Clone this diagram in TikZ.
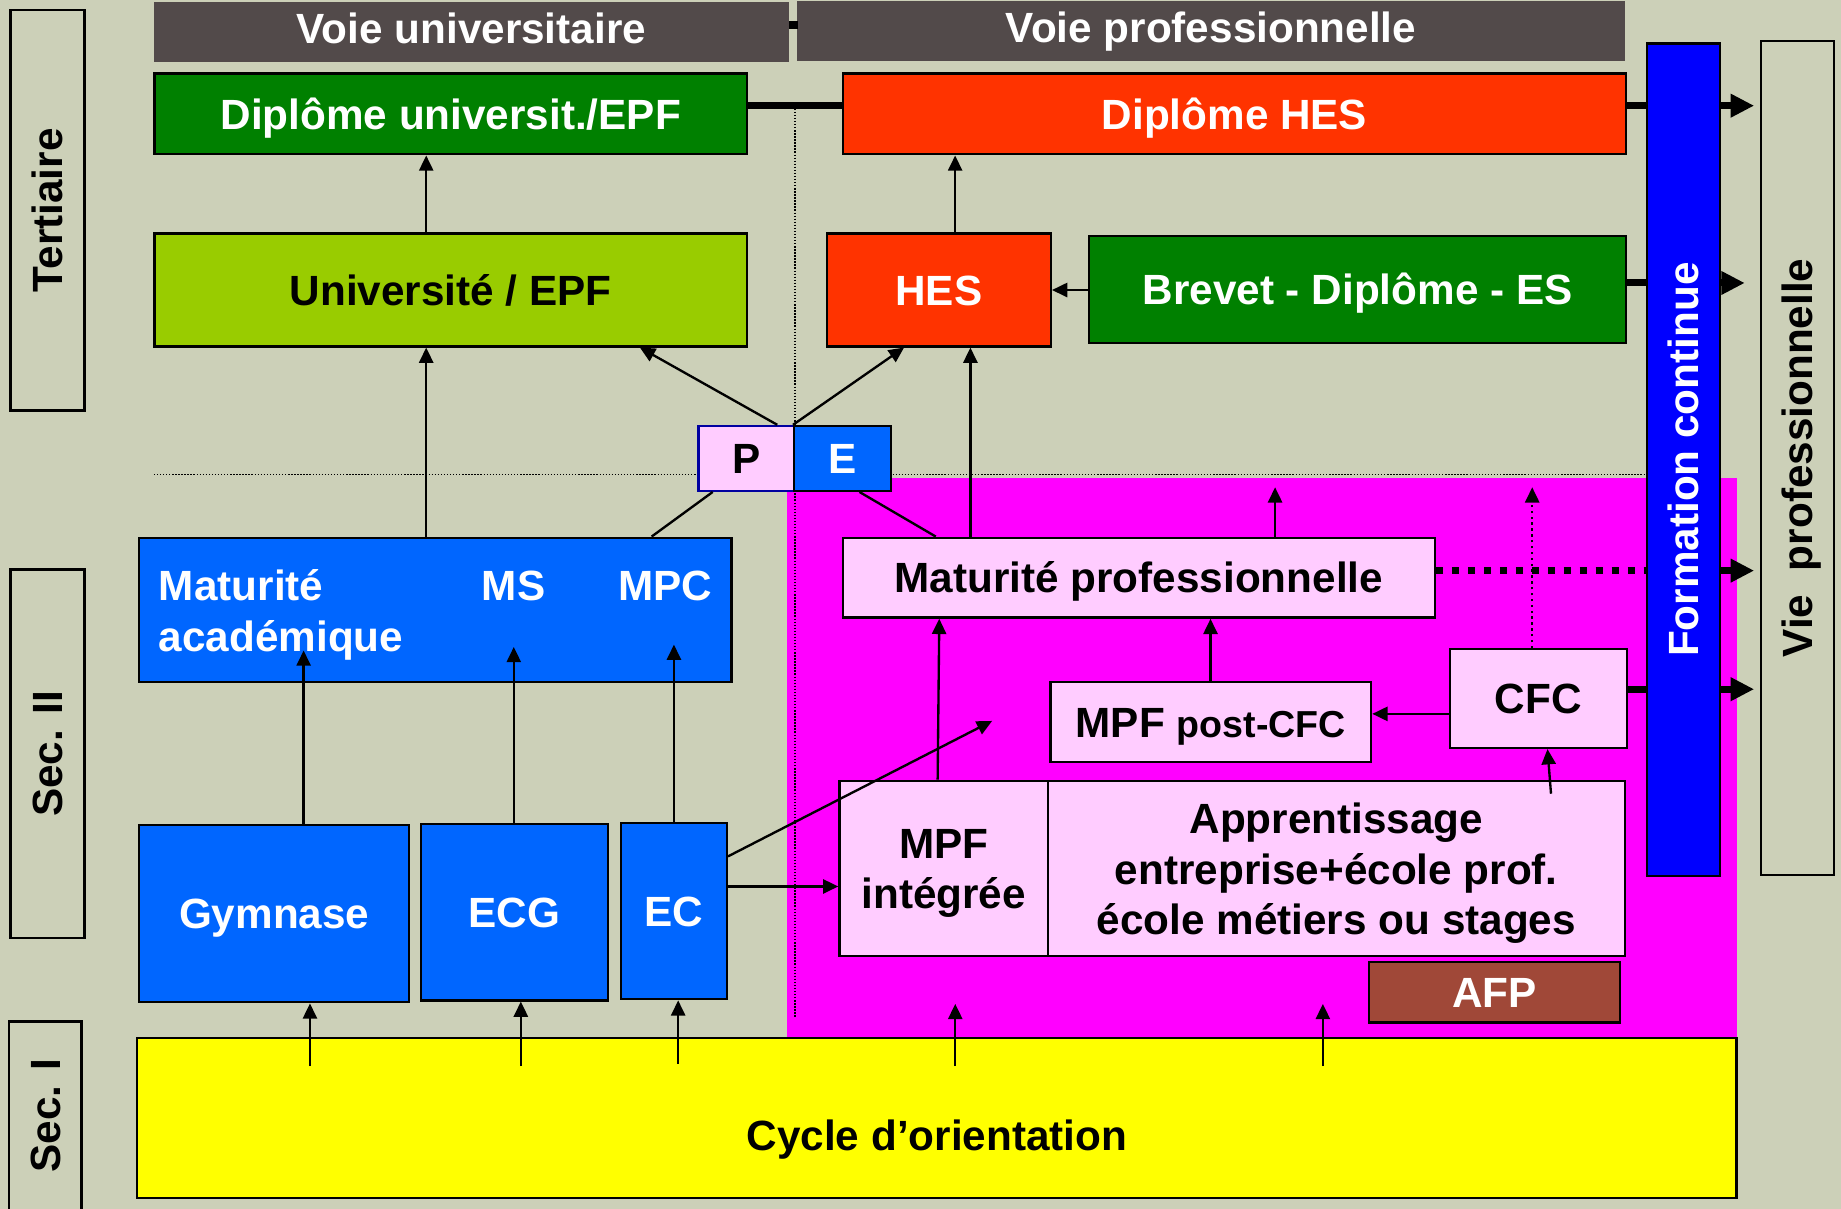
\documentclass[tikz,border=0pt]{standalone}
\usepackage{fontspec}
\setmainfont{Liberation Sans}
\usetikzlibrary{arrows.meta,fit,calc}
\definecolor{bgc}{RGB}{204,208,184}
\definecolor{headc}{RGB}{82,74,74}
\definecolor{greenc}{RGB}{0,128,0}
\definecolor{redc}{RGB}{255,51,0}
\definecolor{limec}{RGB}{153,204,0}
\definecolor{bluec}{RGB}{0,102,255}
\definecolor{pinkc}{RGB}{255,204,255}
\definecolor{magc}{RGB}{255,0,255}
\definecolor{fcblue}{RGB}{0,0,255}
\definecolor{afpc}{RGB}{160,72,56}
\definecolor{yelc}{RGB}{255,255,0}
\definecolor{pborder}{RGB}{0,0,160}
\tikzset{
  txt/.style={font=\fontsize{18}{21.5}\selectfont\bfseries, inner sep=0pt},
  lb/.style={txt, text height=12.9pt, text depth=0pt},
  lbw/.style={lb, text=white},
  ml/.style={txt, align=center, yshift=-2pt},
  box/.style={draw=black, line width=1pt, inner sep=0pt},
  hbox/.style={fill=headc, inner sep=0pt},
  rlab/.style={txt, rotate=90, text height=12.9pt, text depth=0pt},
  arr/.style={line width=1pt, -{Triangle[length=6.5pt,width=6pt]}},
  plain/.style={line width=1pt},
  dotarr/.style={line width=1pt, dash pattern=on 1pt off 1.5pt, -{Triangle[length=6.5pt,width=6pt]}},
  thk/.style={line width=3pt},
  thkdot/.style={line width=3.1pt, dash pattern=on 3.1pt off 3.7pt},
  thkarr/.style={line width=3pt, -{Triangle[length=10pt,width=9.5pt]}},
  thindots/.style={line width=0.6pt, dash pattern=on 0.6pt off 0.7pt},
}
\begin{document}
\begin{tikzpicture}[x=0.5pt,y=-0.5pt]
\useasboundingbox (0,0) rectangle (1568,1029.7);
\fill[bgc] (0,0) rectangle (1568,1029.7);
% professional area
\fill[magc] (670,407) rectangle (1479,884);
% guide lines
\draw[thindots] (131,404) -- (1400,404);
\draw[thindots] (677,90) -- (677,866);
% side labels
\node[box, fit={(9,8.5) (72,349.5)}, label={[rlab]center:Tertiaire}] (ter) {};
\node[box, fit={(9,485) (72,799)}, label={[rlab]center:Sec. II}] (s2) {};
\node[box, fit={(7.5,870) (69.5,1034)}] (s1) {};
\node[rlab] (s1t) at ($(s1.north)!0.5!(s1.north |- 0,1031)$) {Sec. I};
% headers
\node[hbox, fit={(131,1.6) (672,53)}, label={[lbw, yshift=1.5pt]center:Voie universitaire}] (hu) {};
\node[hbox, fit={(679,1) (1384,52)}, label={[lbw, yshift=1.5pt]center:Voie professionnelle}] (hp) {};
\fill (672,18) rectangle (680,24.5);
% tertiary
\node[box, fill=greenc, fit={(131.5,62.6) (636.3,131.4)}, label={[lbw]center:{Diplôme universit./EPF}}] (du) {};
\node[box, fill=redc, fit={(717.8,62.6) (1385,131.4)}, label={[lbw]center:Diplôme HES}] (dh) {};
\node[box, fill=limec, fit={(131.5,198.8) (636.3,295)}, label={[lb]center:{Université / EPF}}] (ue) {};
\node[box, fill=redc, fit={(704.3,199) (895,295)}, label={[lbw]center:HES}] (hes) {};
\node[box, fill=greenc, fit={(927.6,201) (1385,292)}, label={[lbw]center:{Brevet - Diplôme - ES}}] (bes) {};
% P E
\node[box, draw=pborder, fill=pinkc, fit={(594.8,362.8) (676.4,418)}, label={[lb]center:P}] (P) {};
\node[box, fill=bluec, fit={(676.4,362.8) (758.8,418)}, label={[lbw]center:E}] (E) {};
% secondary II academic
\node[box, fill=bluec, fit={(118.5,458) (623,581)}] (ma) {};
\node[txt, text=white, anchor=base west] (ma1) at (135,511.5) {Maturité};
\node[txt, text=white, anchor=base west] (ma2) at (135,555) {académique};
\node[txt, text=white, anchor=base west] (ms) at (410,511.5) {MS};
\node[txt, text=white, anchor=base west] (mpc) at (526,511.5) {MPC};
\node[box, fill=bluec, fit={(118.5,702.8) (348.6,853.6)}, label={[lbw]center:Gymnase}] (gym) {};
\node[box, fill=bluec, fit={(358.6,702) (517.7,852)}, label={[lbw]center:ECG}] (ecg) {};
\node[box, fill=bluec, fit={(528.7,701) (619,851)}, label={[lbw]center:EC}] (ec) {};
% professional
\node[box, fill=pinkc, fit={(718,458) (1222,526)}, label={[lb]center:Maturité professionnelle}] (mp) {};
\node[box, fill=pinkc, fit={(894.6,581) (1167.8,649)}, label={[lb]center:{MPF {\fontsize{16}{19}\selectfont post-CFC}}}] (mpcfc) {};
\node[box, fill=pinkc, fit={(1235,553) (1385.5,637)}, label={[lb]center:CFC}] (cfc) {};
\node[box, fill=pinkc, fit={(715,665) (892.6,814.4)}, label={[ml]center:{MPF\\intégrée}}] (mpi) {};
\node[box, fill=pinkc, fit={(892.6,665) (1383.8,814.4)}, label={[ml]center:{Apprentissage\\entreprise+école prof.\\école métiers ou stages}}] (app) {};
\node[box, fill=afpc, fit={(1166,819.4) (1380,871)}, label={[lbw]center:AFP}] (afp) {};
% secondary I
\node[box, fill=yelc, fit={(116.5,884) (1479,1020.5)}] (co) {};
\node[lb] (cot) at (798,967) {Cycle d’orientation};
% formation continue and vie professionnelle
\node[box, fill=fcblue, fit={(1403,37) (1465,746)}, label={[rlab, text=white]center:Formation continue}] (fc) {};
\node[box, fit={(1500,35) (1562,745)}, label={[rlab]center:Vie~~professionnelle}] (vp) {};
% free ends
\coordinate (g1) at (258.6,554);
\coordinate (g2) at (437.6,551);
\coordinate (g3) at (574,549);
\coordinate (c1) at (264,908);
\coordinate (c2) at (443.6,908);
\coordinate (c3) at (577.6,906);
\coordinate (c4) at (813.6,908);
\coordinate (c5) at (1126.7,908);
\coordinate (p4) at (813.6,855);
\coordinate (p5) at (1126.7,855);
\coordinate (ecx) at (845,614);
\coordinate (up1) at (1086,415);
\coordinate (up2) at (1305,415);
\coordinate (ap1) at (1321,676);
% thin arrows
\draw[arr] (363,0 |- ue.north) -- (363,0 |- du.south);
\draw[arr] (813.5,0 |- hes.north) -- (813.5,0 |- dh.south);
\draw[arr] (363,0 |- ma.north) -- (363,0 |- ue.south);
\draw[arr] (662,0 |- P.north) -- (545,0 |- ue.south);
\draw[arr] (E.north west) -- (770,0 |- hes.south);
\draw[arr] (826.5,0 |- mp.north) -- (826.5,0 |- hes.south);
\draw[plain] (555,0 |- ma.north) -- (607,0 |- P.south);
\draw[plain] (732,0 |- E.south) -- (797,0 |- mp.north);
\draw[arr] (258.6,0 |- gym.north) -- (g1);
\draw[arr] (437.6,0 |- ecg.north) -- (g2);
\draw[arr] (574,0 |- ec.north) -- (g3);
\draw[arr] (c1) -- (264,0 |- gym.south);
\draw[arr] (c2) -- (443.6,0 |- ecg.south);
\draw[arr] (c3) -- (577.6,0 |- ec.south);
\draw[arr] (c4) -- (p4);
\draw[arr] (c5) -- (p5);
\draw[arr] (ec.east |- 0,755) -- (mpi.west |- 0,755);
\draw[arr] (ec.east |- 0,729.4) -- (ecx);
\draw[arr] (798.6,0 |- mpi.north) -- (800,0 |- mp.south);
\draw[arr] (1031,0 |- mpcfc.north) -- (1031,0 |- mp.south);
\draw[arr] (cfc.west |- 0,608) -- (mpcfc.east |- 0,608);
\draw[arr] (ap1) -- (1318,0 |- cfc.south);
\draw[arr] (1086,0 |- mp.north) -- (up1);
\draw[dotarr] (1305,0 |- cfc.north) -- (up2);
\draw[arr] (bes.west |- 0,247) -- (hes.east |- 0,247);
% thick connectors
\draw[thk] (du.east |- 0,90) -- (dh.west |- 0,90);
\draw[thk] (dh.east |- 0,90) -- (fc.west |- 0,90);
\draw[thkarr] (fc.east |- 0,90) -- (1494,0 |- 0,90);
\draw[thk] (bes.east |- 0,241) -- (fc.west |- 0,241);
\draw[thkarr] (fc.east |- 0,241) -- (1486,0 |- 0,241);
\draw[thkdot] (mp.east |- 0,486) -- (fc.west |- 0,486);
\draw[thkarr] (fc.east |- 0,486) -- (1494,0 |- 0,486);
\draw[thk] (cfc.east |- 0,587) -- (fc.west |- 0,587);
\draw[thkarr] (fc.east |- 0,587) -- (1494,0 |- 0,587);
\end{tikzpicture}
\end{document}
